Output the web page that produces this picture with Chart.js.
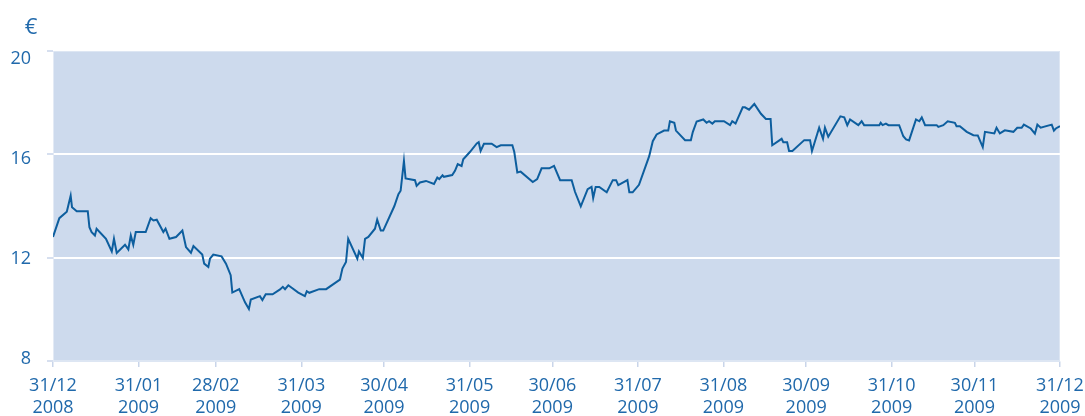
<!DOCTYPE html>
<html>
<head>
<meta charset="utf-8">
<script src="https://cdn.jsdelivr.net/npm/chart.js@4/dist/chart.umd.min.js"></script>
<style>
  html, body { margin: 0; padding: 0; background: #ffffff; }
  #wrap { width: 1085px; height: 416px; position: relative; }
</style>
</head>
<body>
<div id="wrap"><canvas id="c" width="1085" height="416"></canvas></div>
<script>
// Days since 31/12/2008
const days = [
  0, 2.3, 5.0, 6.4, 6.9, 8.6, 12.6, 13.2, 14.0, 15.2, 15.8, 19.2, 21.3, 22.1, 23.1, 26.1, 27.3, 28.2, 29.1, 30.0,
  33.6, 35.4, 36.4, 37.6, 40.0, 40.8, 42.2, 44.6, 46.9, 48.2, 50.0, 50.9, 54.1, 54.8, 56.3, 56.9, 58.1, 61.1, 62.7, 64.4,
  65.0, 67.5, 69.6, 71.0, 71.7, 75.0, 75.9, 77.1, 79.6, 82.3, 83.3, 84.1, 85.3, 88.9, 91.3, 92.0, 92.9, 96.5, 99.0, 104.0,
  104.9, 106.2, 107.0, 110.3, 110.9, 112.3, 113.1, 114.3, 116.7, 117.5, 118.8, 119.7, 123.7, 125.2, 126.0, 127.2, 127.8, 131.2, 131.8, 133.0,
  135.2, 138.1, 139.3, 140.0, 141.2, 141.7, 144.7, 145.7, 146.7, 148.1, 148.7, 151.1, 153.6, 154.3, 155.0, 156.2, 159.0, 160.8, 162.3, 166.5,
  167.2, 168.3, 169.5, 173.9, 175.5, 177.1, 179.9, 181.6, 183.8, 188.0, 189.2, 191.3, 193.8, 195.2, 195.8, 196.7, 198.0, 200.7, 202.9, 204.1,
  204.9, 208.2, 208.9, 210.1, 212.4, 216.1, 217.4, 218.8, 221.5, 223.0, 223.6, 225.2, 225.8, 229.1, 231.2, 231.9, 233.3, 235.7, 236.9, 237.8,
  239.0, 239.9, 243.2, 245.4, 246.2, 247.4, 250.0, 250.8, 252.3, 254.2, 256.6, 258.4, 260.1, 260.7, 264.1, 264.7, 266.1, 266.8, 268.0, 272.3,
  274.4, 275.1, 277.7, 279.1, 279.8, 281.0, 285.4, 286.8, 287.9, 288.9, 291.9, 293.1, 294.0, 299.5, 300.0, 300.7, 301.9, 302.8, 306.7, 308.2,
  309.2, 310.3, 312.8, 314.0, 314.9, 316.1, 320.3, 320.9, 322.7, 324.3, 326.9, 327.5, 328.7, 331.2, 333.6, 335.2, 337.0, 337.8, 341.2, 342.0,
  343.2, 345.0, 348.1, 349.5, 351.1, 351.9, 354.4, 355.9, 356.8, 358.0, 362.0, 362.8, 363.5, 365
];
// Share price in euro
const prices = [
  12.80, 13.53, 13.78, 14.40, 13.95, 13.80, 13.80, 13.18, 12.99, 12.86, 13.12, 12.73, 12.24, 12.73, 12.18, 12.50, 12.32, 12.86, 12.50, 12.99,
  12.99, 13.53, 13.44, 13.47, 12.99, 13.12, 12.73, 12.80, 13.05, 12.41, 12.19, 12.45, 12.12, 11.77, 11.64, 11.96, 12.12, 12.05, 11.77, 11.32,
  10.65, 10.78, 10.27, 10.01, 10.38, 10.51, 10.36, 10.58, 10.58, 10.77, 10.87, 10.78, 10.93, 10.65, 10.51, 10.70, 10.64, 10.78, 10.78, 11.15,
  11.58, 11.83, 12.73, 11.96, 12.24, 11.99, 12.73, 12.80, 13.12, 13.47, 13.05, 13.05, 13.99, 14.46, 14.59, 15.74, 15.07, 15.00, 14.78, 14.91,
  14.97, 14.85, 15.10, 15.04, 15.19, 15.13, 15.20, 15.36, 15.62, 15.55, 15.81, 16.09, 16.42, 16.47, 16.13, 16.41, 16.41, 16.28, 16.35, 16.35,
  16.09, 15.30, 15.33, 14.93, 15.04, 15.46, 15.46, 15.55, 15.00, 15.00, 14.55, 13.99, 14.65, 14.74, 14.31, 14.74, 14.74, 14.53, 15.00, 15.00,
  14.81, 15.00, 14.53, 14.53, 14.82, 15.93, 16.51, 16.77, 16.92, 16.92, 17.28, 17.22, 16.92, 16.55, 16.55, 16.86, 17.27, 17.35, 17.22, 17.28,
  17.19, 17.28, 17.28, 17.13, 17.28, 17.19, 17.82, 17.82, 17.73, 17.95, 17.57, 17.37, 17.37, 16.35, 16.60, 16.47, 16.47, 16.13, 16.13, 16.55,
  16.55, 16.13, 17.03, 16.60, 17.03, 16.68, 17.47, 17.43, 17.13, 17.35, 17.13, 17.28, 17.13, 17.13, 17.22, 17.13, 17.19, 17.13, 17.13, 16.70,
  16.58, 16.54, 17.35, 17.28, 17.43, 17.13, 17.13, 17.06, 17.13, 17.28, 17.22, 17.09, 17.09, 16.87, 16.74, 16.73, 16.28, 16.87, 16.81, 17.03,
  16.81, 16.93, 16.87, 17.03, 17.03, 17.15, 17.00, 16.80, 17.15, 17.03, 17.15, 16.92, 17.00, 17.09
];
const xTickDays = [0, 31, 59, 90, 120, 151, 181, 212, 243, 273, 304, 334, 365];
const xTickLabels = [
  ['31/12', '2008'], ['31/01', '2009'], ['28/02', '2009'], ['31/03', '2009'], ['30/04', '2009'],
  ['31/05', '2009'], ['30/06', '2009'], ['31/07', '2009'], ['31/08', '2009'], ['30/09', '2009'],
  ['31/10', '2009'], ['30/11', '2009'], ['31/12', '2009']
];
const yTicks = [8, 12, 16, 20];
const unitLabel = '€';

const textColor = '#2069ab';
const fontFamily = '"Open Sans", "Noto Sans", sans-serif';

const bgPlugin = {
  id: 'plotBg',
  beforeDraw(chart) {
    const {ctx, chartArea: a} = chart;
    ctx.save();
    ctx.fillStyle = '#cddaed';
    ctx.fillRect(a.left, a.top, a.right - a.left, a.bottom - a.top);
    ctx.strokeStyle = '#dde6f3';
    ctx.lineWidth = 1;
    ctx.strokeRect(a.left + 0.5, a.top + 0.5, a.right - a.left - 1, a.bottom - a.top - 1);
    ctx.restore();
  },
  afterDraw(chart) {
    const {ctx, chartArea: a} = chart;
    ctx.save();
    ctx.fillStyle = textColor;
    ctx.font = '22px ' + fontFamily;
    ctx.textAlign = 'center';
    ctx.textBaseline = 'middle';
    ctx.fillText(unitLabel, a.left - 22, a.top - 23);
    ctx.restore();
  }
};

new Chart(document.getElementById('c'), {
  type: 'line',
  data: {
    datasets: [{
      data: days.map((d, i) => ({x: d, y: prices[i]})),
      borderColor: '#0d5e9e',
      borderWidth: 2,
      pointRadius: 0,
      tension: 0,
      fill: false,
      yAxisID: 'y'
    }]
  },
  options: {
    responsive: false,
    animation: false,
    layout: { padding: { top: 51, right: 25, left: 0, bottom: 0 } },
    plugins: { legend: { display: false }, tooltip: { enabled: false } },
    scales: {
      x: {
        type: 'linear',
        min: 0,
        max: 365,
        afterBuildTicks(scale) { scale.ticks = xTickDays.map(v => ({value: v})); },
        afterFit(scale) { scale.height = 55; scale.paddingLeft = 0; scale.paddingRight = 0; },
        ticks: {
          autoSkip: false,
          maxRotation: 0,
          padding: 8,
          color: textColor,
          font: { family: fontFamily, size: 18, lineHeight: 1.2 },
          callback(v) { const i = xTickDays.indexOf(v); return i >= 0 ? xTickLabels[i] : ''; }
        },
        grid: {
          drawOnChartArea: false,
          drawTicks: true,
          tickLength: 6,
          tickColor: '#c9d5ea',
          lineWidth: 1.5
        },
        border: { display: true, color: '#dde6f3' }
      },
      y: {
        position: 'left',
        weight: 0,
        min: 8,
        max: 20,
        afterBuildTicks(scale) { scale.ticks = yTicks.map(v => ({value: v})); },
        afterFit(scale) { scale.width = 0; },
        ticks: { display: false },
        grid: {
          color(ctx) { const v = ctx.tick && ctx.tick.value; return (v === 12 || v === 16) ? '#ffffff' : 'rgba(0,0,0,0)'; },
          lineWidth: 2,
          drawTicks: true,
          tickLength: 6,
          tickColor: '#c9d5ea',
          tickWidth: 1.5
        },
        border: { display: true, color: '#e3eaf5' }
      },
      yLabels: {
        position: 'left',
        weight: 1,
        min: 7.92,
        max: 20.32,
        afterBuildTicks(scale) { scale.ticks = yTicks.map(v => ({value: v})); },
        afterFit(scale) { scale.width = 53; },
        ticks: {
          padding: 22,
          color: textColor,
          font: { family: fontFamily, size: 18 }
        },
        grid: { display: false, drawTicks: false },
        border: { display: false }
      }
    }
  },
  plugins: [bgPlugin]
});
</script>
</body>
</html>
